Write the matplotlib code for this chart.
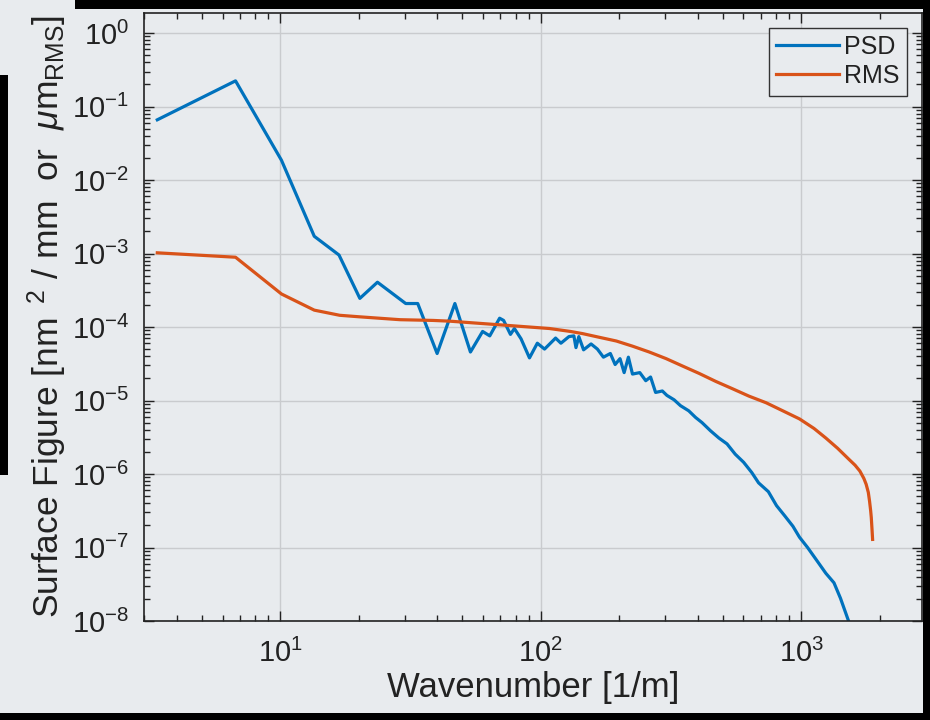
import matplotlib
matplotlib.use("Agg")
import matplotlib.pyplot as plt
from matplotlib.patches import Rectangle
from matplotlib.ticker import FixedLocator, FixedFormatter, LogLocator, NullFormatter

plt.rcParams['font.family'] = ['Liberation Sans', 'DejaVu Sans']
plt.rcParams['mathtext.fontset'] = 'custom'
plt.rcParams['mathtext.rm'] = 'Liberation Sans'
plt.rcParams['mathtext.it'] = 'Liberation Sans:italic'
plt.rcParams['mathtext.default'] = 'regular'

# PSD (wavenumber [1/m], log10 of value)
psd_k = [3.37, 6.73, 10.1, 13.5, 16.8, 20.2, 23.6, 30.3, 33.7, 40.0, 46.8, 53.7,
         59.8, 63.7, 69.5, 72.0, 76.5, 79.2, 84.0, 90.5, 97.0, 103.4, 114.0, 119.5,
         128.3, 134.0, 136.5, 140.0, 146.0, 156.0, 165.0, 174.0, 185.0, 193.0, 201.5,
         209.0, 217.0, 225.0, 240.0, 253.0, 264.0, 276.0, 293.0, 305.0, 325.0, 344.0,
         370.0, 393.0, 416.0, 448.0, 483.0, 519.0, 558.0, 601.0, 646.0, 686.0, 748.0,
         804.0, 865.0, 929.0, 985.0, 1058.0, 1155.0, 1243.0, 1336.0, 1415.0, 1520.0, 1560.0]
psd_log = [-1.18, -0.65, -1.73, -2.765, -3.02, -3.61, -3.39, -3.68, -3.68, -4.36, -3.68, -4.34,
           -4.06, -4.12, -3.88, -3.91, -4.10, -4.02, -4.16, -4.42, -4.22, -4.30, -4.15, -4.22,
           -4.13, -4.12, -4.28, -4.13, -4.31, -4.23, -4.30, -4.41, -4.36, -4.51, -4.43,
           -4.62, -4.41, -4.64, -4.62, -4.73, -4.68, -4.89, -4.87, -4.93, -4.99, -5.07,
           -5.14, -5.23, -5.30, -5.41, -5.51, -5.59, -5.73, -5.84, -5.98, -6.12, -6.24,
           -6.43, -6.57, -6.71, -6.86, -7.00, -7.19, -7.35, -7.48, -7.69, -8.0, -8.3]

# RMS
rms_k = [3.37, 6.73, 10.1, 13.5, 16.9, 20.0, 28.8, 38.6, 44.7, 69.7, 108.0, 130.0,
         145.0, 168.0, 195.0, 225.0, 261.0, 303.0, 350.0, 405.0, 470.0, 545.0, 630.0,
         733.0, 850.0, 985.0, 1120.0, 1243.0, 1380.0, 1525.0, 1610.0, 1680.0, 1740.0,
         1776.0, 1810.0, 1830.0, 1848.0, 1858.0, 1870.0, 1880.0]
rms_log = [-2.99, -3.05, -3.55, -3.77, -3.84, -3.86, -3.90, -3.91, -3.92, -3.97, -4.02, -4.06,
           -4.09, -4.14, -4.19, -4.26, -4.34, -4.43, -4.53, -4.63, -4.74, -4.84, -4.94,
           -5.03, -5.14, -5.25, -5.38, -5.51, -5.65, -5.80, -5.88, -5.96, -6.06,
           -6.14, -6.25, -6.37, -6.50, -6.59, -6.75, -6.89]

x_ticks = [10, 100, 1000]
x_labels = [r'10$^{1}$', r'10$^{2}$', r'10$^{3}$']
y_ticks = [1e-8, 1e-7, 1e-6, 1e-5, 1e-4, 1e-3, 1e-2, 1e-1, 1e0]
y_labels = [r'10$^{-8}$', r'10$^{-7}$', r'10$^{-6}$', r'10$^{-5}$', r'10$^{-4}$',
            r'10$^{-3}$', r'10$^{-2}$', r'10$^{-1}$', r'10$^{0}$']

bg = '#e8ebee'
txt = '#222222'

fig = plt.figure(figsize=(9.3, 7.2), dpi=100, facecolor=bg)
ax = fig.add_axes([0.155, 0.1375, 0.836, 0.845], facecolor=bg)

psd = [10 ** v for v in psd_log]
rms = [10 ** v for v in rms_log]
ax.plot(psd_k, psd, color='#0072BD', lw=2.3, label='PSD')
ax.plot(rms_k, rms, color='#D95319', lw=2.3, label='RMS')

ax.set_xscale('log')
ax.set_yscale('log')
ax.set_xlim(3.0, 2900)
ax.set_ylim(1e-8, 1.9)

ax.xaxis.set_major_locator(FixedLocator(x_ticks))
ax.xaxis.set_major_formatter(FixedFormatter(x_labels))
ax.yaxis.set_major_locator(FixedLocator(y_ticks))
ax.yaxis.set_major_formatter(FixedFormatter(y_labels))
ax.xaxis.set_minor_locator(LogLocator(base=10, subs=range(2, 10), numticks=20))
ax.yaxis.set_minor_locator(LogLocator(base=10, subs=range(2, 10), numticks=20))
ax.xaxis.set_minor_formatter(NullFormatter())
ax.yaxis.set_minor_formatter(NullFormatter())

ax.tick_params(which='both', direction='in', top=True, right=True, colors=txt,
               width=1.0)
ax.tick_params(which='major', length=7, labelsize=21)
ax.tick_params(axis='x', which='major', pad=13)
ax.tick_params(axis='y', which='major', pad=11)
ax.tick_params(which='minor', length=4)
ax.grid(True, which='major', color='#c9cbce', lw=1.0)
ax.set_axisbelow(True)
for s in ax.spines.values():
    s.set_color(txt)
    s.set_linewidth(1.2)

ax.set_xlabel('Wavenumber [1/m]', fontsize=25, color=txt, labelpad=2)
ax.set_ylabel(r'Surface Figure [nm$^{\ \ 2}$ / mm  or  $\mathit{\mu}$m$_{\rm RMS}$]',
              fontsize=25.5, color=txt, labelpad=2)

leg = ax.legend(loc='upper right', fontsize=18, frameon=True, fancybox=False,
                handlelength=2.5, handletextpad=0.2, borderpad=0.3,
                labelspacing=0.2, borderaxespad=0.6)
leg.get_frame().set_facecolor(bg)
leg.get_frame().set_edgecolor('#333333')
leg.get_frame().set_alpha(1.0)
for t in leg.get_texts():
    t.set_color(txt)

# black screen-capture borders
W, H = 930.0, 720.0
for (x0, y0, w, h) in [(75, 0, 855, 9), (0, 75, 8, 400), (923, 0, 7, 720), (0, 713, 930, 7)]:
    fig.add_artist(Rectangle((x0 / W, 1 - (y0 + h) / H), w / W, h / H,
                             transform=fig.transFigure, color='black', lw=0))

fig.savefig('out.png', dpi=100, facecolor=bg)
